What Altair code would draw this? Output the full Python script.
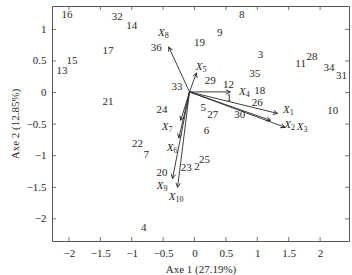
import altair as alt
import pandas as pd
import numpy as np

# Individuals (labels and coordinates on Axe 1 / Axe 2)
pt_labels = ["1", "2", "3", "4", "5", "6", "7", "8", "9", "10", "11", "12",
             "13", "14", "15", "16", "17", "18", "19", "20", "21", "22", "23", "24",
             "25", "26", "27", "28", "29", "30", "31", "32", "33", "34", "35", "36"]
pt_x = [0.55, 0.04, 1.05, -0.81, 0.14, 0.19, -0.77, 0.75, 0.40, 2.20, 1.69, 0.54,
        -2.11, -1.00, -1.95, -2.03, -1.38, 1.04, 0.08, -0.52, -1.38, -0.91, -0.13, -0.52,
        0.16, 1.00, 0.29, 1.87, 0.25, 0.72, 2.34, -1.23, -0.28, 2.14, 0.96, -0.61]
pt_y = [-0.08, -1.18, 0.59, -2.15, -0.25, -0.61, -0.99, 1.23, 0.94, -0.29, 0.45, 0.12,
        0.34, 1.06, 0.50, 1.23, 0.66, 0.02, 0.79, -1.28, -0.15, -0.82, -1.20, -0.28,
        -1.06, -0.17, -0.36, 0.56, 0.18, -0.36, 0.26, 1.19, 0.08, 0.39, 0.29, 0.71]

# Variables (arrows)
var_sub = ["1", "2", "3", "4", "5", "6", "7", "8", "9", "10"]
var_x = [1.32, 1.21, 1.44, 0.57, 0.03, -0.25, -0.22, -0.41, -0.35, -0.27]
var_y = [-0.33, -0.44, -0.55, 0.01, 0.31, -0.72, -0.44, 0.72, -1.36, -1.50]
lab_x = [1.50, 1.52, 1.72, 0.80, 0.11, -0.35, -0.43, -0.49, -0.51, -0.32]
lab_y = [-0.28, -0.52, -0.55, 0.01, 0.40, -0.87, -0.55, 0.94, -1.48, -1.66]
origin = (-0.08, 0.01)

x_ticks = [-2, -1.5, -1, -0.5, 0, 0.5, 1, 1.5, 2]
y_ticks = [-2, -1.5, -1, -0.5, 0, 0.5, 1]
x_dom = [-2.27, 2.46]
y_dom = [-2.35, 1.37]

W, H = 297, 235
FONT = "Liberation Serif"
INK = "#2a2a2a"

pts = pd.DataFrame({"label": pt_labels, "x": pt_x, "y": pt_y})
vars_df = pd.DataFrame({"sub": var_sub, "x": var_x, "y": var_y,
                        "lx": lab_x, "ly": lab_y})
vars_df["x0"] = origin[0]
vars_df["y0"] = origin[1]
sx = W / (x_dom[1] - x_dom[0])
sy = H / (y_dom[1] - y_dom[0])
vars_df["angle"] = (np.degrees(np.arctan2((vars_df["x"] - origin[0]) * sx,
                                          (vars_df["y"] - origin[1]) * sy)) + 360) % 360

xs = alt.Scale(domain=x_dom, nice=False, zero=False)
ys = alt.Scale(domain=y_dom, nice=False, zero=False)

common_axis = dict(ticks=False, tickSize=0, domain=False, grid=False,
                   labelOverlap=False, labelFlush=False,
                   labelFont=FONT, titleFont=FONT,
                   labelFontSize=11, titleFontSize=11, labelColor=INK, titleColor=INK,
                   titleFontWeight="normal", format="~g")
xaxis = alt.Axis(values=x_ticks, labelPadding=6, titlePadding=5, **common_axis)
yaxis = alt.Axis(values=y_ticks, labelPadding=6, titlePadding=6, **common_axis)
XT = "Axe 1 (27.19%)"
YT = "Axe 2 (12.85%)"


def X(field):
    return alt.X(field, scale=xs, axis=xaxis, title=XT)


def Y(field):
    return alt.Y(field, scale=ys, axis=yaxis, title=YT)


base_pts = alt.Chart(pts)
text_pts = base_pts.mark_text(font=FONT, fontSize=11, color=INK, align="center",
                              baseline="middle").encode(
    x=X("x:Q"), y=Y("y:Q"), text="label:N")

base_v = alt.Chart(vars_df)
shafts = base_v.mark_rule(color=INK, strokeWidth=0.9).encode(
    x=X("x0:Q"), y=Y("y0:Q"), x2="x:Q", y2="y:Q")
heads = base_v.mark_point(shape="M-0.55,1.1L0,0L0.55,1.1", filled=False, size=60,
                          color=INK, strokeWidth=0.9, opacity=1).encode(
    x=X("x:Q"), y=Y("y:Q"), angle=alt.Angle("angle:Q", scale=None))
lab_X = base_v.mark_text(font=FONT, fontSize=11, fontStyle="italic", color=INK,
                         align="right", baseline="middle", dx=1).encode(
    x=X("lx:Q"), y=Y("ly:Q"), text=alt.value("X"))
lab_sub = base_v.mark_text(font=FONT, fontSize=8, color=INK, align="left",
                           baseline="middle", dx=1, dy=3).encode(
    x=X("lx:Q"), y=Y("ly:Q"), text="sub:N")

# inside ticks on all four sides
xt = pd.DataFrame({"t": x_ticks})
yt = pd.DataFrame({"t": y_ticks})
tick_style = dict(color="#555555", strokeWidth=0.8)
tb = alt.Chart(xt).mark_rule(**tick_style).encode(
    x=X("t:Q"), y=alt.value(H), y2=alt.value(H - 4))
tt = alt.Chart(xt).mark_rule(**tick_style).encode(
    x=X("t:Q"), y=alt.value(0), y2=alt.value(4))
tl = alt.Chart(yt).mark_rule(**tick_style).encode(
    y=Y("t:Q"), x=alt.value(0), x2=alt.value(4))
tr = alt.Chart(yt).mark_rule(**tick_style).encode(
    y=Y("t:Q"), x=alt.value(W), x2=alt.value(W - 4))

chart = alt.layer(text_pts, shafts, heads, lab_X, lab_sub, tb, tt, tl, tr).properties(
    width=W, height=H,
    autosize=alt.AutoSizeParams(type="none"),
    padding={"left": 52, "top": 6, "right": 3, "bottom": 34},
    background="white",
).configure_view(stroke="#555555", strokeWidth=1)

chart.save("out.html", embed_options={"renderer": "svg", "actions": False})
